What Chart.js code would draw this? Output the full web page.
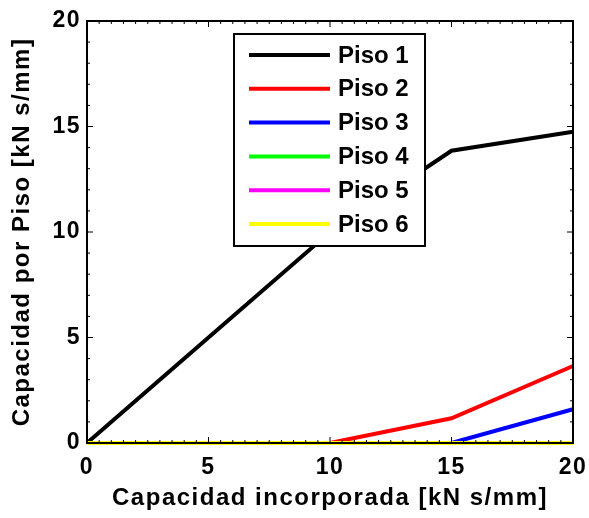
<!DOCTYPE html>
<html>
<head>
<meta charset="utf-8">
<script src="https://cdn.jsdelivr.net/npm/chart.js@4.4.1/dist/chart.umd.min.js"></script>
<style>
  html, body { margin: 0; padding: 0; background: #fff; }
  #wrap { width: 589px; height: 518px; }
</style>
</head>
<body>
<div id="wrap"><canvas id="chartCanvas" width="589" height="518"></canvas></div>
<script>
// valores
var capacidad = [0, 5, 10, 15, 20];
var piso1 = [0, 5, 10, 13.85, 14.75];
var piso2 = [0, 0, 0, 1.17, 3.65];
var piso3 = [0, 0, 0, 0, 1.6];
var piso4 = [0, 0, 0, 0, 0];
var piso5 = [0, 0, 0, 0, 0];
var piso6 = [0, 0, 0, 0, 0];

var nombres = ['Piso 1', 'Piso 2', 'Piso 3', 'Piso 4', 'Piso 5', 'Piso 6'];
var colores = ['#000000', '#ff0000', '#0000ff', '#00ff00', '#ff00ff', '#ffff00'];
var series = [piso1, piso2, piso3, piso4, piso5, piso6];

var xTicks = [0, 5, 10, 15, 20];
var yTicks = [0, 5, 10, 15, 20];

var fuente = '"Liberation Sans", Arial, Helvetica, sans-serif';

function puntos(ys) {
  var out = [];
  for (var i = 0; i < capacidad.length; i++) {
    out.push({x: capacidad[i], y: ys[i]});
  }
  return out;
}

var datasets = [];
for (var i = 0; i < series.length; i++) {
  datasets.push({
    label: nombres[i],
    data: puntos(series[i]),
    borderColor: colores[i],
    backgroundColor: colores[i],
    borderWidth: 4,
    pointRadius: 0,
    tension: 0,
    clip: false,
    order: series.length - i
  });
}

// texto de ejes un poco mas ancho, como en la figura original
var espaciadoPlugin = {
  id: 'espaciado',
  beforeDraw: function(chart) {
    chart.ctx.letterSpacing = '1.5px';
  }
};

// marco tipo matlab con ticks hacia adentro
var marcoPlugin = {
  id: 'marco',
  afterDatasetsDraw: function(chart) {
    var ctx = chart.ctx;
    var a = chart.chartArea;
    var sx = chart.scales.x, sy = chart.scales.y;
    ctx.save();
    ctx.letterSpacing = '0px';
    ctx.strokeStyle = '#000';
    ctx.lineWidth = 1;
    var v, p, len;
    for (v = 0; v <= 20; v += 0.5) {
      p = sx.getPixelForValue(v);
      len = (v % 5 === 0) ? 6 : 3;
      ctx.beginPath();
      ctx.moveTo(p, a.bottom); ctx.lineTo(p, a.bottom - len);
      ctx.moveTo(p, a.top); ctx.lineTo(p, a.top + len);
      ctx.stroke();
    }
    for (v = 0; v <= 20; v += 1) {
      p = sy.getPixelForValue(v);
      len = (v % 5 === 0) ? 6 : 3;
      ctx.beginPath();
      ctx.moveTo(a.left, p); ctx.lineTo(a.left + len, p);
      ctx.moveTo(a.right, p); ctx.lineTo(a.right - len, p);
      ctx.stroke();
    }
    ctx.lineWidth = 2;
    ctx.strokeRect(a.left, a.top, a.right - a.left, a.bottom - a.top);

    // leyenda dentro del area
    var bx = a.left + 147, by = a.top + 13, bw = 191, bh = 212;
    ctx.fillStyle = '#fff';
    ctx.fillRect(bx, by, bw, bh);
    ctx.lineWidth = 2;
    ctx.strokeRect(bx, by, bw, bh);
    ctx.font = 'bold 24px ' + fuente;
    ctx.textBaseline = 'middle';
    ctx.textAlign = 'left';
    for (var k = 0; k < chart.data.datasets.length; k++) {
      var ds = chart.data.datasets[k];
      var ry = by + 21 + k * 33.8;
      ctx.strokeStyle = ds.borderColor;
      ctx.lineWidth = 4;
      ctx.beginPath();
      ctx.moveTo(bx + 15, ry); ctx.lineTo(bx + 96, ry);
      ctx.stroke();
      ctx.fillStyle = '#000';
      ctx.fillText(ds.label, bx + 104, ry + 1);
    }
    ctx.restore();
  }
};

var ctx = document.getElementById('chartCanvas').getContext('2d');
var chart = new Chart(ctx, {
  type: 'line',
  data: { datasets: datasets },
  options: {
    responsive: false,
    animation: false,
    layout: { padding: { left: 0, right: 16, top: 21, bottom: 0 } },
    plugins: {
      legend: { display: false },
      tooltip: { enabled: false }
    },
    scales: {
      x: {
        type: 'linear',
        min: 0,
        max: 20,
        afterBuildTicks: function(scale) {
          scale.ticks = xTicks.map(function(v) { return {value: v}; });
        },
        afterFit: function(scale) {
          scale.height = 75;
          scale.paddingLeft = 0;
          scale.paddingRight = 0;
        },
        grid: { display: false, drawTicks: false },
        border: { display: false },
        ticks: {
          color: '#000',
          padding: 11,
          maxRotation: 0,
          font: { family: fuente, size: 23, weight: 'bold' }
        },
        title: {
          display: true,
          text: 'Capacidad incorporada [kN s/mm]',
          color: '#000',
          padding: { top: 0, bottom: 5 },
          font: { family: fuente, size: 24, weight: 'bold' }
        }
      },
      y: {
        type: 'linear',
        min: 0,
        max: 20,
        afterBuildTicks: function(scale) {
          scale.ticks = yTicks.map(function(v) { return {value: v}; });
        },
        afterFit: function(scale) {
          scale.width = 87;
          scale.paddingTop = 0;
          scale.paddingBottom = 0;
        },
        grid: { display: false, drawTicks: false },
        border: { display: false },
        ticks: {
          color: '#000',
          padding: 6,
          font: { family: fuente, size: 23, weight: 'bold' }
        },
        title: {
          display: true,
          text: 'Capacidad por Piso [kN s/mm]',
          color: '#000',
          padding: { top: 8, bottom: 0 },
          font: { family: fuente, size: 24, weight: 'bold' }
        }
      }
    }
  },
  plugins: [espaciadoPlugin, marcoPlugin]
});
</script>
</body>
</html>
